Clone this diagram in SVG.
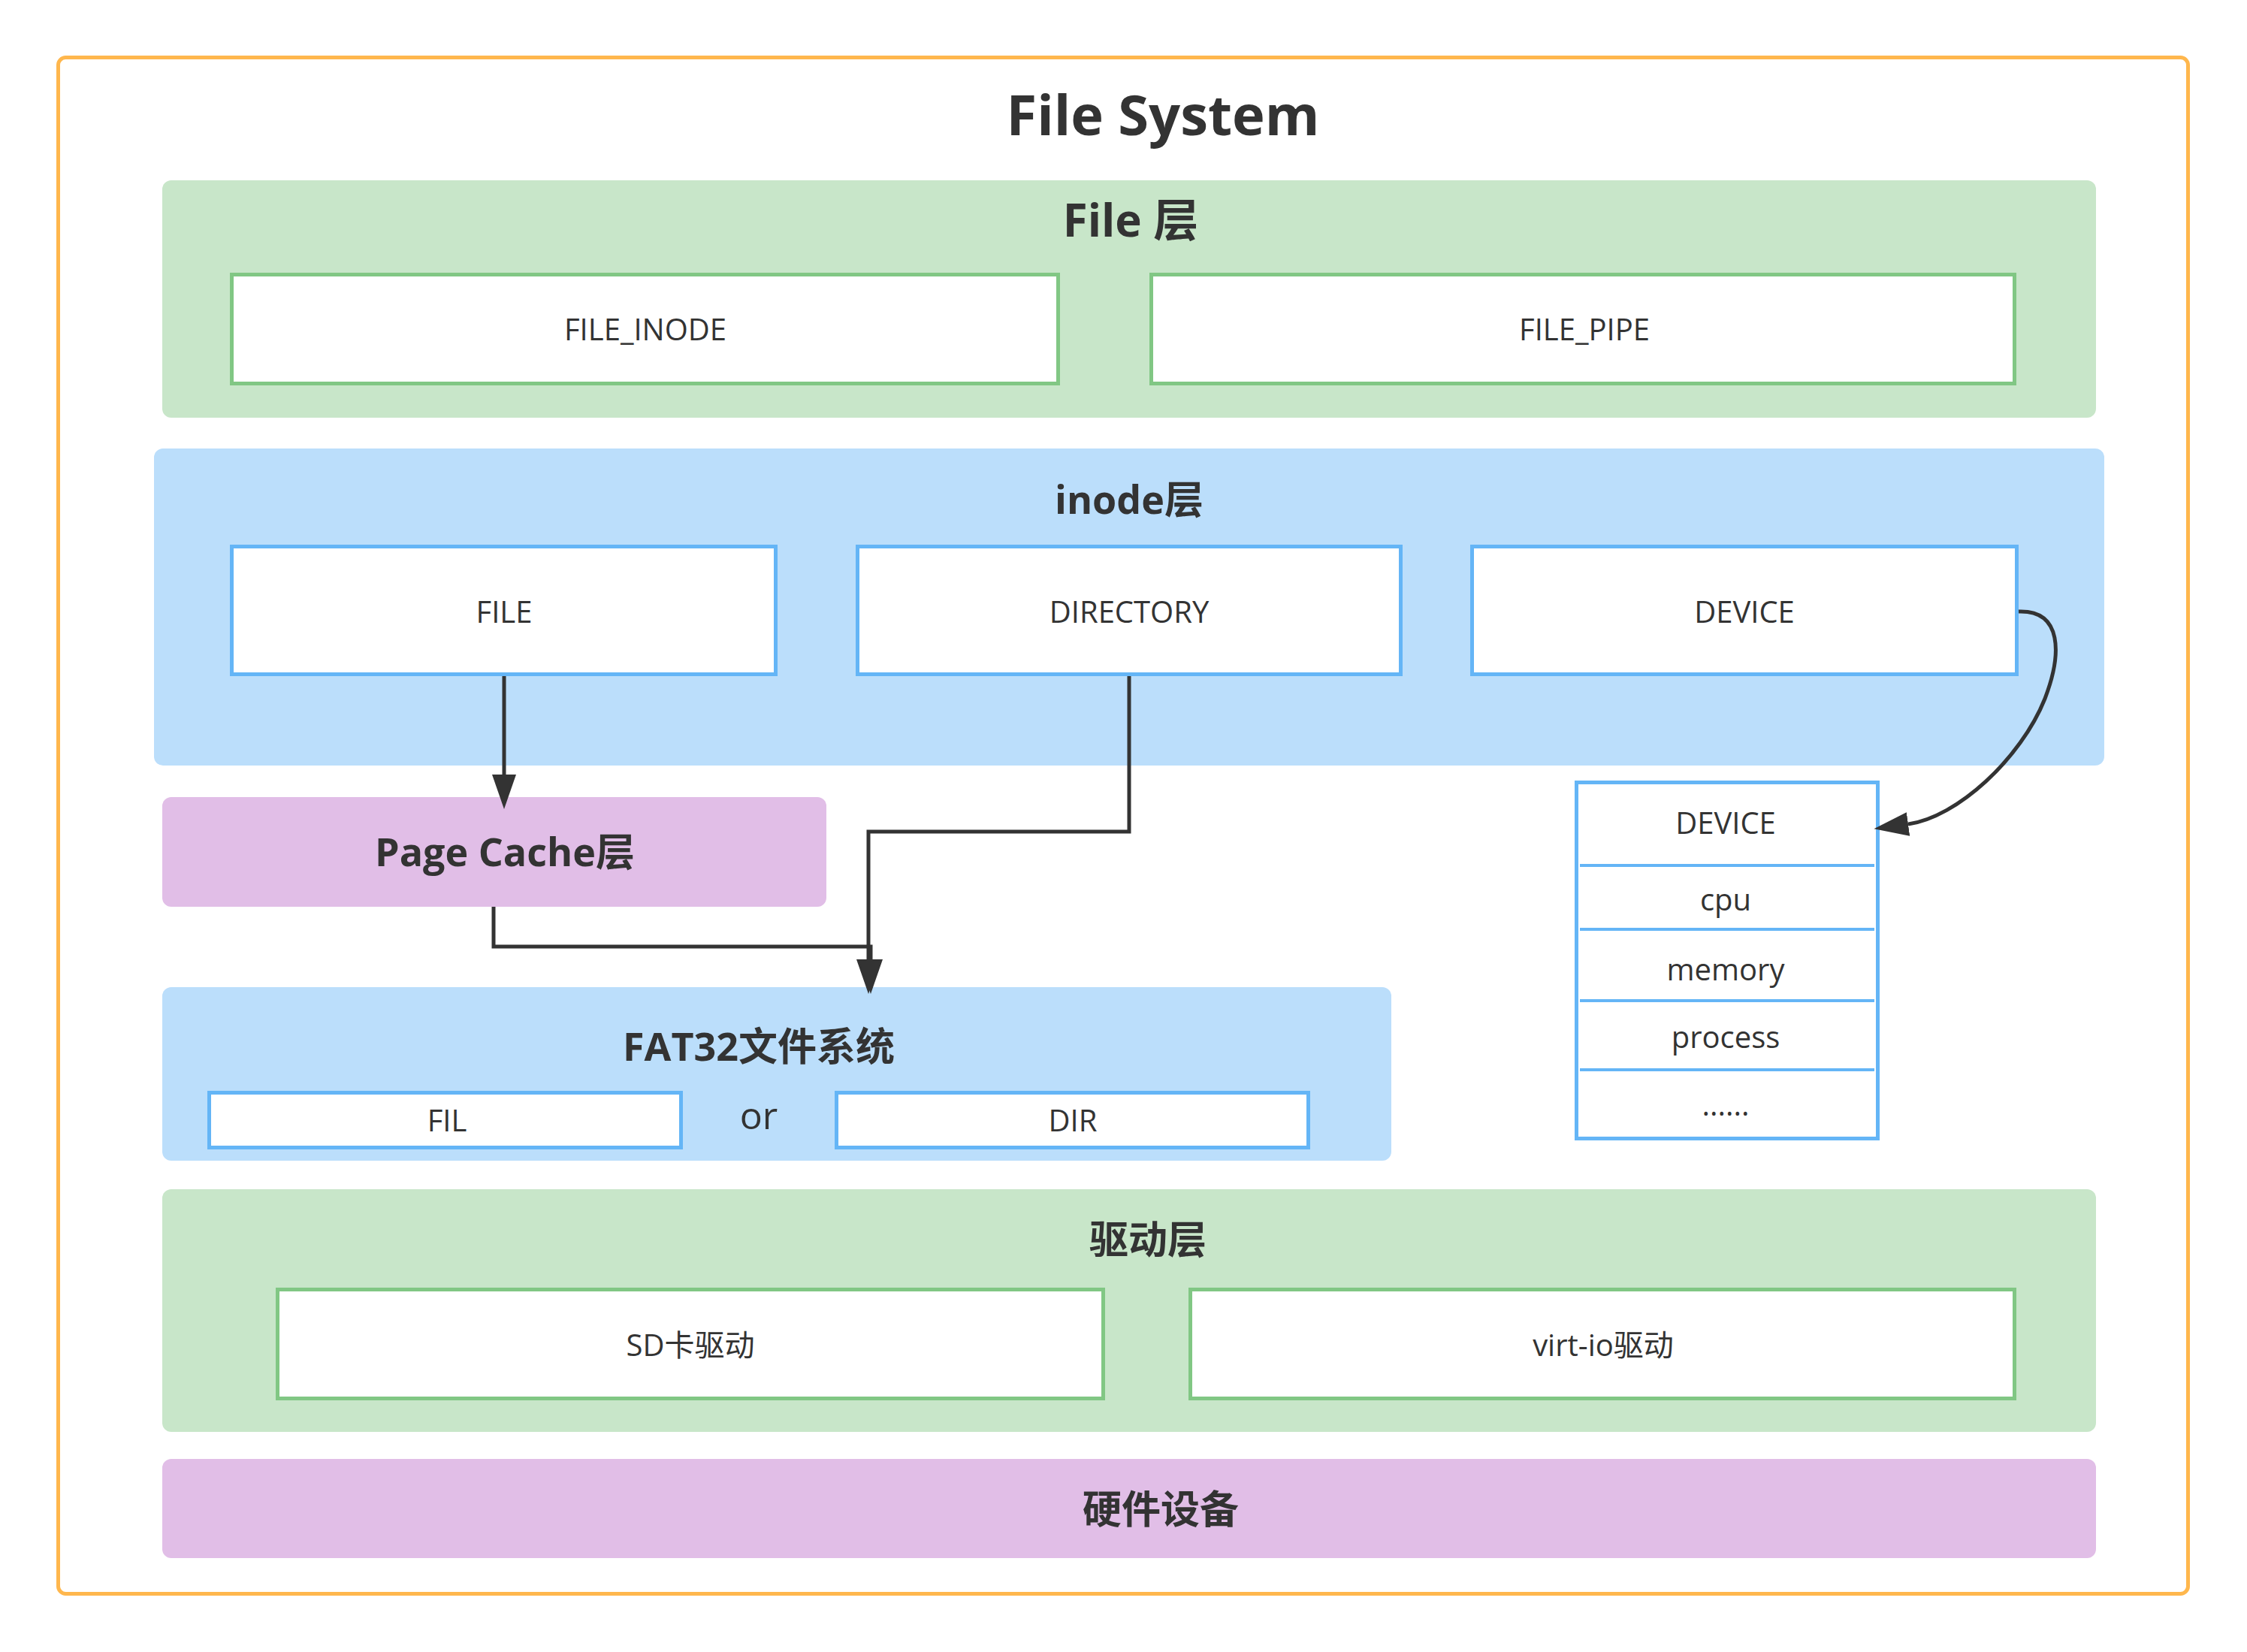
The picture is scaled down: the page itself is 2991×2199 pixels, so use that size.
<svg xmlns="http://www.w3.org/2000/svg" width="2991" height="2199" viewBox="0 0 2991 2199">
<style>
text{font-family:"Open Sans","Noto Sans CJK SC",sans-serif;fill:#333333;text-anchor:middle}
.title{font-size:74px;font-weight:bold}
.big{font-size:60px;font-weight:bold}
.lbl{font-size:52px;font-weight:bold}
.t{font-size:40px}
.or{font-size:50px}
.green{fill:#C8E6C9}
.blue{fill:#BBDEFB}
.purple{fill:#E1BEE7}
.gbox{fill:#FFFFFF;stroke:#81C784;stroke-width:5}
.bbox{fill:#FFFFFF;stroke:#64B5F6;stroke-width:5}
.sep{stroke:#64B5F6;stroke-width:4}
.conn{fill:none;stroke:#333333;stroke-width:5}
</style>
<defs>
<marker id="arrow" markerUnits="userSpaceOnUse" markerWidth="46" markerHeight="32" viewBox="0 0 46 32" refX="0" refY="16" orient="auto">
<path d="M0,0 L46,16 L0,32 Z" fill="#333333"/>
</marker>
</defs>
<rect width="2991" height="2199" fill="#FFFFFF"/>
<g id="frame">
<rect x="77.5" y="76.5" width="2835" height="2045" rx="10" fill="#FFFFFF" stroke="#FFB74D" stroke-width="5"/>
<text class="title" x="1548" y="180">File System</text>
</g>
<g id="file-layer">
<rect class="green" x="216" y="240" width="2574" height="316" rx="12"/>
<text class="big" x="1505" y="315">File 层</text>
</g>
<g id="file-inode">
<rect class="gbox" x="308.5" y="365.5" width="1100" height="145"/>
<text class="t" x="859" y="453">FILE_INODE</text>
</g>
<g id="file-pipe">
<rect class="gbox" x="1532.5" y="365.5" width="1149" height="145"/>
<text class="t" x="2109" y="453">FILE_PIPE</text>
</g>
<g id="inode-layer">
<rect class="blue" x="205" y="597" width="2596" height="422" rx="12"/>
<text class="lbl" x="1503" y="684">inode层</text>
</g>
<g id="inode-file">
<rect class="bbox" x="308.5" y="727.5" width="724" height="170"/>
<text class="t" x="671" y="829">FILE</text>
</g>
<g id="inode-directory">
<rect class="bbox" x="1141.5" y="727.5" width="723" height="170"/>
<text class="t" x="1503" y="829">DIRECTORY</text>
</g>
<g id="inode-device">
<rect class="bbox" x="1959.5" y="727.5" width="725" height="170"/>
<text class="t" x="2322" y="829">DEVICE</text>
</g>
<g id="page-cache">
<rect class="purple" x="216" y="1061" width="884" height="146" rx="12"/>
<text class="lbl" x="672" y="1153">Page Cache层</text>
</g>
<g id="fat32-layer">
<rect class="blue" x="216" y="1314" width="1636" height="231" rx="12"/>
<text class="lbl" x="1010" y="1412">FAT32文件系统</text>
<text class="or" x="1010" y="1503">or</text>
</g>
<g id="fat32-fil">
<rect class="bbox" x="278.5" y="1454.5" width="628" height="73"/>
<text class="t" x="595" y="1506">FIL</text>
</g>
<g id="fat32-dir">
<rect class="bbox" x="1113.5" y="1454.5" width="628" height="73"/>
<text class="t" x="1428" y="1506">DIR</text>
</g>
<g id="device-list">
<rect class="bbox" x="2098.5" y="1041.5" width="401" height="474"/>
<line class="sep" x1="2103" y1="1152" x2="2495" y2="1152"/>
<line class="sep" x1="2103" y1="1237" x2="2495" y2="1237"/>
<line class="sep" x1="2103" y1="1332" x2="2495" y2="1332"/>
<line class="sep" x1="2103" y1="1424" x2="2495" y2="1424"/>
<text class="t" x="2297" y="1110">DEVICE</text>
<text class="t" x="2297" y="1212">cpu</text>
<text class="t" x="2297" y="1305">memory</text>
<text class="t" x="2297" y="1395">process</text>
<text class="t" x="2297" y="1485">......</text>
</g>
<g id="driver-layer">
<rect class="green" x="216" y="1583" width="2574" height="323" rx="12"/>
<text class="lbl" x="1528" y="1669">驱动层</text>
</g>
<g id="driver-sd">
<rect class="gbox" x="369.5" y="1716.5" width="1099" height="145"/>
<text class="t" x="919" y="1805">SD卡驱动</text>
</g>
<g id="driver-virtio">
<rect class="gbox" x="1584.5" y="1716.5" width="1097" height="145"/>
<text class="t" x="2134" y="1805">virt-io驱动</text>
</g>
<g id="hardware">
<rect class="purple" x="216" y="1942" width="2574" height="132" rx="12"/>
<text class="lbl" x="1545" y="2028">硬件设备</text>
</g>
<g id="connectors">
<path class="conn" d="M671,900 L671,1031" marker-end="url(#arrow)"/>
<path class="conn" d="M1503,900 L1503,1107 L1156,1107 L1156,1277" marker-end="url(#arrow)"/>
<path class="conn" d="M657,1207 L657,1260 L1159,1260 L1159,1277" marker-end="url(#arrow)"/>
<path class="conn" d="M2687,814 C2745,812 2745,870 2722,930 C2690,1010 2605,1088 2540,1097" marker-end="url(#arrow)"/>
</g>
</svg>
